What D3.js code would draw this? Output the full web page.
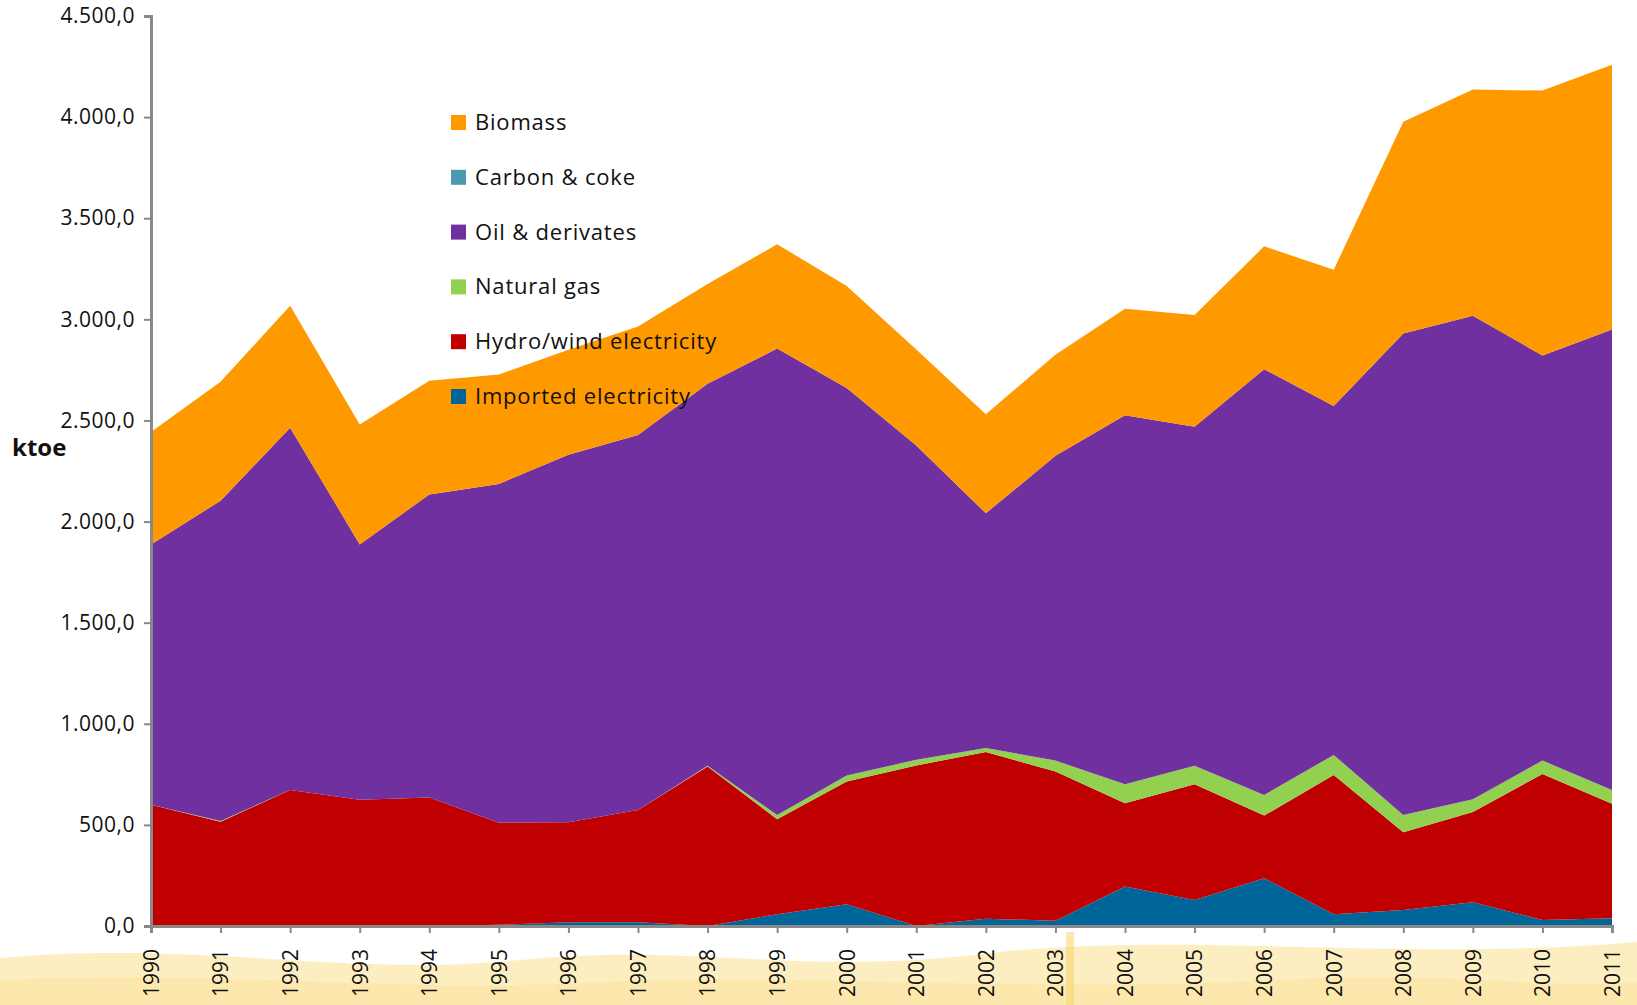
<!DOCTYPE html>
<html>
<head>
<title>ktoe</title>
<script type="text/javascript" src="https://cdn.jsdelivr.net/npm/d3@7"></script>
<style>
body { margin: 0; background: #fff; }
text { font-family: "Open Sans", "Noto Sans", sans-serif; }
</style>
</head>
<body>
<svg width="1637" height="1005"></svg>
<script type="text/javascript">

var years = [1990, 1991, 1992, 1993, 1994, 1995, 1996, 1997, 1998, 1999, 2000,
             2001, 2002, 2003, 2004, 2005, 2006, 2007, 2008, 2009, 2010, 2011];

var imported = [0, 0, 0, 0, 0, 6, 18, 18, 0, 58, 108, 0, 36, 26, 195, 129, 236, 58, 79, 117, 30, 38];
var hydro    = [599, 516, 673, 624, 635, 505, 495, 556, 789, 470, 606, 794, 824, 738, 412, 572, 310, 689, 385, 447, 722, 566];
var gas      = [0, 3, 0, 0, 0, 0, 0, 0, 3, 21, 30, 28, 20, 54, 94, 91, 102, 99, 85, 63, 66, 69];
var oil      = [1288, 1584, 1791, 1263, 1499, 1675, 1817, 1854, 1889, 2307, 1916, 1554, 1161, 1507, 1825, 1677, 2105, 1726, 2381, 2391, 2003, 2277];
var carbon   = [0, 0, 0, 0, 0, 0, 0, 0, 0, 0, 0, 0, 0, 0, 0, 0, 0, 0, 0, 0, 0, 0];
var biomass  = [556, 588, 603, 593, 562, 541, 520, 536, 494, 515, 505, 475, 490, 500, 526, 552, 608, 673, 1047, 1118, 1310, 1309];

var yTicks = [0, 500, 1000, 1500, 2000, 2500, 3000, 3500, 4000, 4500];

// bottom to top
var series = [
  {key: "Imported electricity", values: imported, color: "#006699"},
  {key: "Hydro/wind electricity", values: hydro, color: "#C00000"},
  {key: "Natural gas", values: gas, color: "#92D050"},
  {key: "Oil & derivates", values: oil, color: "#7030A0"},
  {key: "Carbon & coke", values: carbon, color: "#4A9BB0"},
  {key: "Biomass", values: biomass, color: "#FF9900"}
];

var svg = d3.select("svg");

// decorative background band at the bottom
var bg = svg.append("g");
bg.append("path")
  .attr("d", "M0,958 C200,940 350,978 520,960 C700,942 800,978 1000,952 C1200,932 1400,962 1637,942 L1637,1005 L0,1005 Z")
  .attr("fill", "#FCE8AC").attr("opacity", 0.75);
bg.append("path")
  .attr("d", "M0,980 C250,970 400,994 600,982 C800,972 1000,994 1300,979 C1450,972 1550,989 1637,982 L1637,1005 L0,1005 Z")
  .attr("fill", "#FBE3A0").attr("opacity", 0.6);
bg.append("rect").attr("x", 1066).attr("y", 932).attr("width", 8).attr("height", 73)
  .attr("fill", "#F5D56A").attr("opacity", 0.55);

var mLeft = 151, mRight = 1612, mTop = 16, mBottom = 926;

var x = d3.scaleLinear().domain([1990, 2011]).range([mLeft, mRight]);
var y = d3.scaleLinear().domain([0, 4500]).range([mBottom, mTop]);

var table = years.map(function(yr, i) {
  var row = {year: yr};
  series.forEach(function(s) { row[s.key] = s.values[i]; });
  return row;
});

var stack = d3.stack().keys(series.map(function(s) { return s.key; }));
var layers = stack(table);

var area = d3.area()
  .x(function(d) { return x(d.data.year); })
  .y0(function(d) { return y(d[0]); })
  .y1(function(d) { return y(d[1]); });

svg.append("g").selectAll("path")
  .data(layers)
  .enter().append("path")
  .attr("d", area)
  .attr("fill", function(d, i) { return series[i].color; });

var locale = d3.formatLocale({decimal: ",", thousands: ".", grouping: [3], currency: ["", ""]});
var fmt = locale.format(",.1f");

var yAxis = d3.axisLeft(y).tickValues(yTicks).tickFormat(fmt).tickSize(7).tickPadding(9);
var gy = svg.append("g").attr("transform", "translate(" + mLeft + ",0)").call(yAxis);
gy.select(".domain").attr("stroke", "#898989").attr("stroke-width", 3);
gy.selectAll(".tick line").attr("stroke", "#898989").attr("stroke-width", 2);
gy.selectAll(".tick text").attr("font-size", 21).attr("fill", "#111")
  .attr("letter-spacing", 0.5)
  .style("font-family", "'Open Sans', 'Noto Sans', sans-serif");

var xAxis = d3.axisBottom(x).tickValues(years).tickFormat(d3.format("d")).tickSize(7).tickPadding(9);
var gx = svg.append("g").attr("transform", "translate(0," + mBottom + ")").call(xAxis);
gx.select(".domain").attr("stroke", "#898989").attr("stroke-width", 3);
gx.selectAll(".tick line").attr("stroke", "#898989").attr("stroke-width", 2);
gx.selectAll(".tick text")
  .attr("font-size", 21).attr("fill", "#111")
  .attr("transform", "rotate(-90)")
  .attr("text-anchor", "end")
  .attr("x", -23).attr("y", 0).attr("dy", "0.35em")
  .style("font-family", "'Open Sans', 'Noto Sans', sans-serif");

svg.append("text")
  .attr("x", 12).attr("y", 456)
  .attr("font-size", 24).attr("font-weight", "bold").attr("fill", "#111")
  .text("ktoe");

// legend, top to bottom
var legend = svg.append("g").attr("transform", "translate(451,122)");
var legendItems = series.slice().reverse();
var li = legend.selectAll("g").data(legendItems).enter().append("g")
  .attr("transform", function(d, i) { return "translate(0," + (i * 54.8) + ")"; });
li.append("rect").attr("x", 0).attr("y", -7).attr("width", 15).attr("height", 15)
  .attr("fill", function(d) { return d.color; });
li.append("text").attr("x", 24).attr("y", 0).attr("dy", "0.36em")
  .attr("font-size", 22).attr("letter-spacing", 0.8).attr("fill", "#111")
  .text(function(d) { return d.key; });

</script>
</body>
</html>
